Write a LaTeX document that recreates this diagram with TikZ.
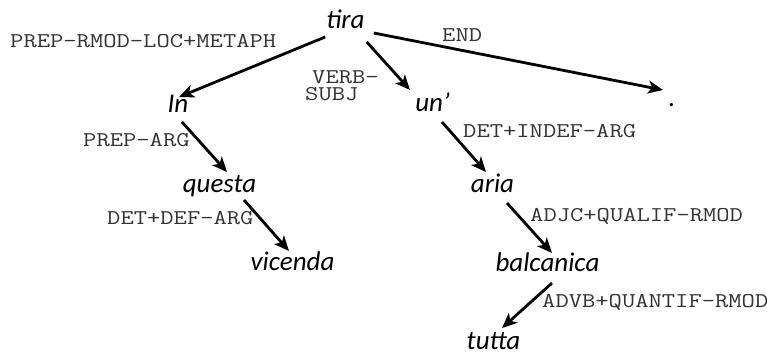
\documentclass[tikz,border=0pt]{standalone}
\usepackage{fontspec}
\newfontfamily\wordfont{Carlito}
\newfontfamily\labfont{Latin Modern Mono}[FakeStretch=1.23]
\usetikzlibrary{arrows.meta}
\tikzset{
  word/.style={inner sep=0pt, anchor=base, font=\wordfont\itshape\fontsize{27}{30}\selectfont},
  lab/.style={inner sep=0pt, anchor=base west, text=black!80, font=\labfont\fontsize{21}{17}\selectfont},
  dep/.style={line width=2.8pt, -{Stealth[length=15pt,width=13pt,inset=4pt]}}
}
\begin{document}
\begin{tikzpicture}[x=1pt,y=-1pt]
\useasboundingbox (0,0) rectangle (767,352);
% words
\node[word] (tira) at (345.5,29) {tira};
\node[word] (In) at (178,113) {In};
\node[word] (un) at (432.5,112) {un’};
\node[word] (dot) at (672,107) {.};
\node[word] (questa) at (219.5,193) {questa};
\node[word] (vicenda) at (292.5,270) {vicenda};
\node[word] (aria) at (492.5,193) {aria};
\node[word] (balcanica) at (547.5,272) {balcanica};
\node[word] (tutta) at (493.5,349) {tutta};
% labels
\node[lab] (l1) at (10,48) {PREP-RMOD-LOC+METAPH};
\node[lab] (l2) at (442,42) {END};
\node[lab, anchor=north west, align=left] (l3) at (305,70.5) {\hspace*{7pt}VERB-\\SUBJ};
\node[lab] (l4) at (83,147) {PREP-ARG};
\node[lab] (l5) at (107,225) {DET+DEF-ARG};
\node[lab] (l6) at (463,138) {DET+INDEF-ARG};
\node[lab] (l7) at (530,222) {ADJC+QUALIF-RMOD};
\node[lab] (l8) at (542,307) {ADVB+QUANTIF-RMOD};
% arcs
\draw[dep] ([shift={(-1,8)}]tira.base west) -- ([shift={(1,-16)}]In.base);
\draw[dep] ([shift={(2,13)}]tira.base east) -- ([shift={(-5,-22)}]un.base west);
\draw[dep] ([shift={(9,4)}]tira.base east) -- ([shift={(-9,-17)}]dot.base);
\draw[dep] ([shift={(4,9)}]In.base) -- ([shift={(7.5,-21)}]questa.base);
\draw[dep] ([shift={(24.5,7)}]questa.base) -- ([shift={(-3.5,-19)}]vicenda.base);
\draw[dep] ([shift={(9.5,10)}]un.base) -- ([shift={(-6.5,-21)}]aria.base);
\draw[dep] ([shift={(14.5,10)}]aria.base) -- ([shift={(4.5,-19)}]balcanica.base);
\draw[dep] ([shift={(4.5,11)}]balcanica.base) -- ([shift={(8.5,-21)}]tutta.base);
\end{tikzpicture}
\end{document}
